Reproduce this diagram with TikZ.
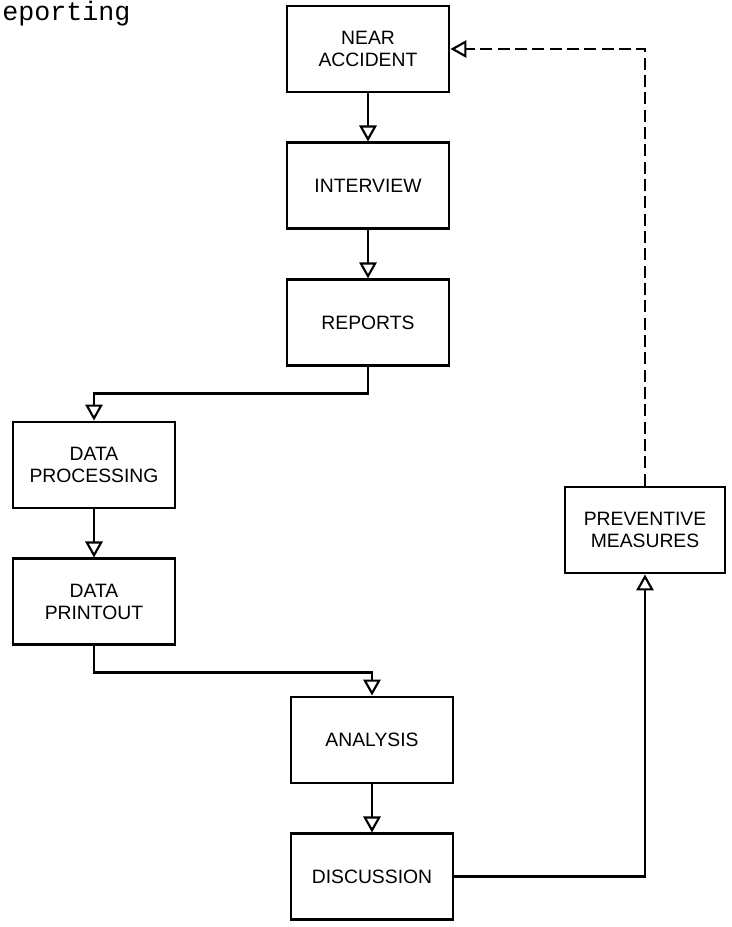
\documentclass[tikz,border=0pt]{standalone}
\usepackage{fontspec}
\setsansfont{Liberation Sans}
\setmonofont{Liberation Mono}
\usepackage{tikz}
\usetikzlibrary{arrows.meta,positioning}

\begin{document}
\begin{tikzpicture}[
  x=0.75pt, y=-0.75pt,
  font=\sffamily\fontsize{14.5}{16.5}\selectfont,
  node distance=36pt,
  box/.style={draw, line width=2.2pt, align=center, minimum width=121.5pt,
              minimum height=64.5pt, inner sep=2pt},
  arr/.style={-{Triangle[open, length=12pt, width=13pt, line width=1.6pt]},
              line width=2.2pt},
  feedback/.style={arr, dash pattern=on 9pt off 4pt}
]
\useasboundingbox (0,0) rectangle (731,927);

% caption fragment
\node[anchor=base west, inner sep=0pt, font=\ttfamily\fontsize{20}{24}\selectfont]
  (title) at (2,21) {eporting};

% main column
\node[box] (near) at (368,49) {NEAR\\ACCIDENT};
\node[box, below=of near] (interview) {INTERVIEW};
\node[box, below=of interview] (reports) {REPORTS};

% data column
\node[box] (proc) at (94,465) {DATA\\PROCESSING};
\node[box, below=of proc] (printout) {DATA\\PRINTOUT};

% evaluation
\node[box] (analysis) at (372,740) {ANALYSIS};
\node[box, below=of analysis] (discussion) {DISCUSSION};
\node[box, minimum width=120pt] (prevent) at (645,530) {PREVENTIVE\\MEASURES};

\draw[arr] (near) -- (interview);
\draw[arr] (interview) -- (reports);
\draw[arr] (reports.south) -- ++(0,26) -| (proc.north);
\draw[arr] (proc) -- (printout);
\draw[arr] (printout.south) -- ++(0,26) -| (analysis.north);
\draw[arr] (analysis) -- (discussion);
\draw[arr] (discussion.east) -| (prevent.south);
\draw[feedback] (prevent.north) |- (near.east);

\end{tikzpicture}
\end{document}
